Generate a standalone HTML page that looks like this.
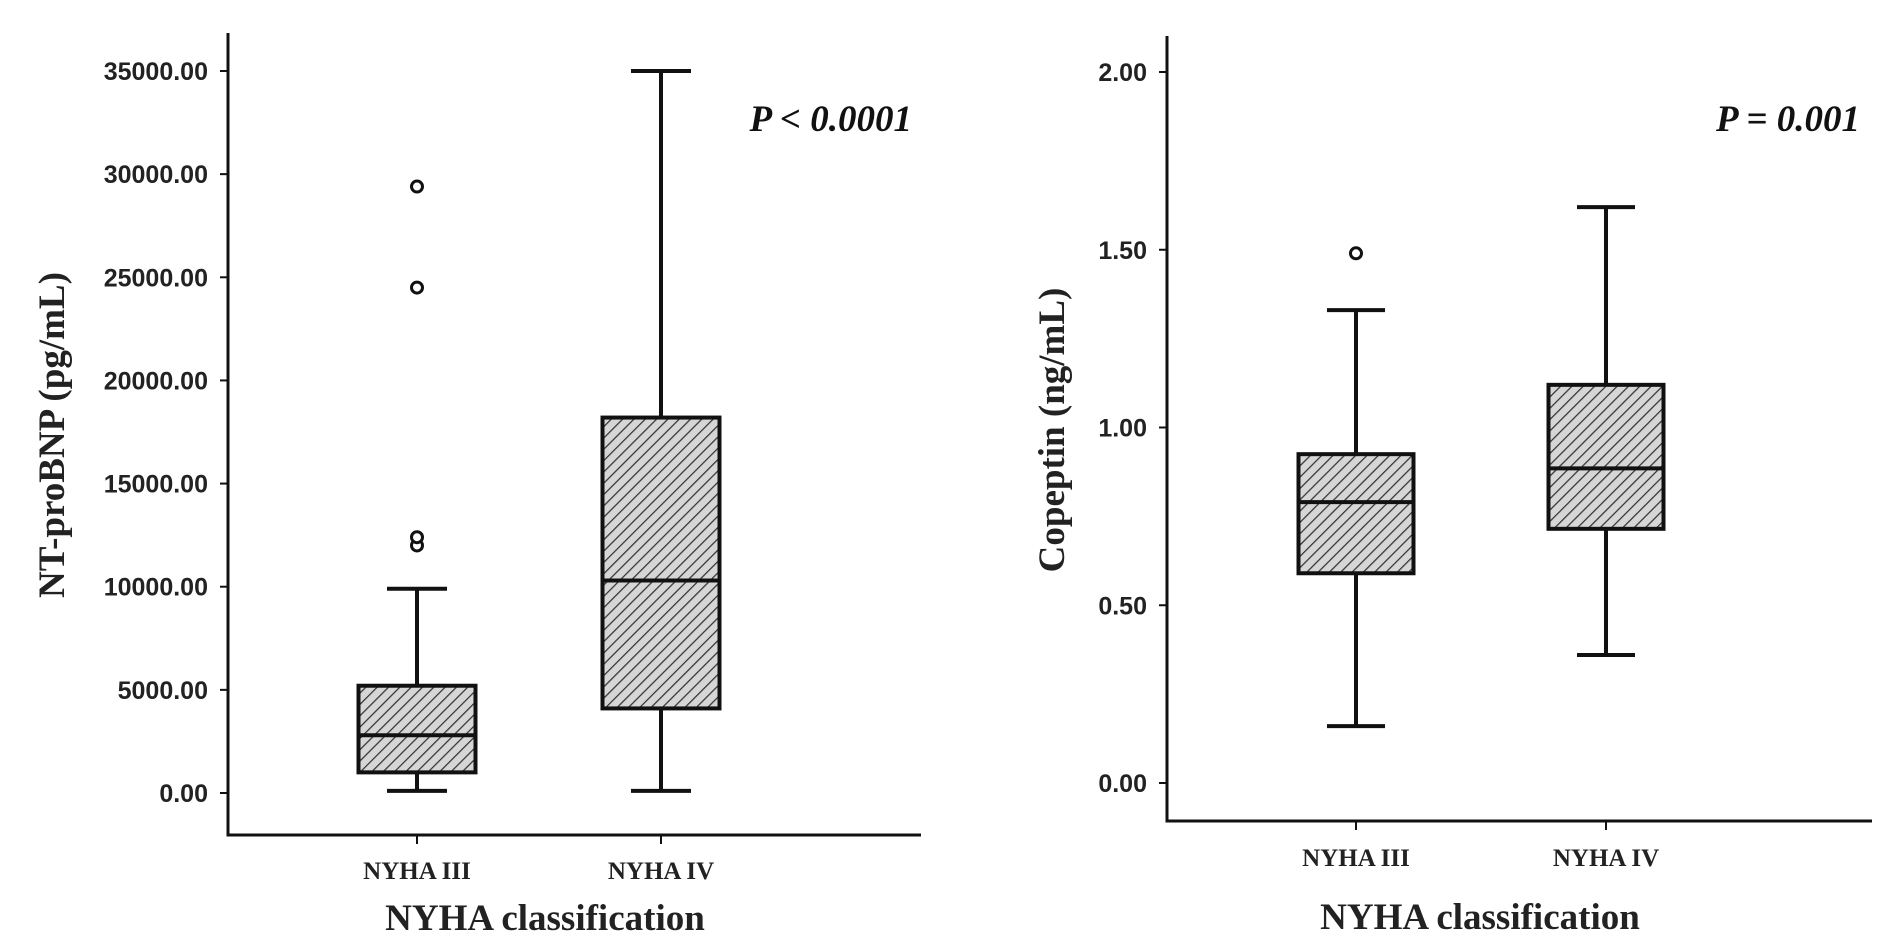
<!DOCTYPE html>
<html><head><meta charset="utf-8"><style>
html,body{margin:0;padding:0;background:#fff;}
svg{display:block;}
.tick{font-family:"Liberation Sans",sans-serif;font-weight:bold;font-size:25px;fill:#222;}
.cat{font-family:"Liberation Serif",serif;font-weight:bold;font-size:25px;fill:#222;}
.title{font-family:"Liberation Serif",serif;font-weight:bold;font-size:37px;fill:#222;}
.pval{font-family:"Liberation Serif",serif;font-weight:bold;font-style:italic;font-size:37px;fill:#111;}
</style></head><body>
<svg id="chart" width="1890" height="950" viewBox="0 0 1890 950">
<defs>
<pattern id="hatch" patternUnits="userSpaceOnUse" width="8" height="8" patternTransform="rotate(45)">
<rect width="8" height="8" fill="#d6d6d6"/>
<line x1="0" y1="0" x2="0" y2="8" stroke="#333" stroke-width="2.5"/>
</pattern>
</defs>
</svg>
<script>
const categories = ["NYHA III", "NYHA IV"];
// NT-proBNP panel
const bnpWhiskerLow = [100, 100];
const bnpQ1 = [1000, 4100];
const bnpMedian = [2800, 10300];
const bnpQ3 = [5200, 18200];
const bnpWhiskerHigh = [9900, 35000];
const bnpOutliers = [[12000, 12400, 24500, 29400], []];
const bnpTicks = [0, 5000, 10000, 15000, 20000, 25000, 30000, 35000];
// Copeptin panel
const copWhiskerLow = [0.16, 0.36];
const copQ1 = [0.59, 0.715];
const copMedian = [0.79, 0.885];
const copQ3 = [0.925, 1.12];
const copWhiskerHigh = [1.33, 1.62];
const copOutliers = [[1.49], []];
const copTicks = [0, 0.5, 1.0, 1.5, 2.0];

const NS = "http://www.w3.org/2000/svg";
const svg = document.getElementById("chart");
function mk(tag, attrs, parent) {
  const e = document.createElementNS(NS, tag);
  for (const k in attrs) e.setAttribute(k, attrs[k]);
  (parent || svg).appendChild(e);
  return e;
}

function panel(p) {
  const g = mk("g", {});
  
  
  const y = v => p.y0 + (v - p.vmin) / (p.vmax - p.vmin) * (p.y1 - p.y0);
  const sw = 4;
  const ya = mk("line", {x1:p.ax, y1:p.axTop, x2:p.ax, y2:p.axBottom + 1.5, stroke:"#111", "stroke-width":3}, g);
  
  
  const xa = mk("line", {x1:p.ax, y1:p.axBottom, x2:p.axRight, y2:p.axBottom, stroke:"#111", "stroke-width":3}, g);
  
  
  p.ticks.forEach(t => {
    const ty = y(t);
    const tk = mk("line", {x1:p.ax - 8, y1:ty, x2:p.ax, y2:ty, stroke:"#111", "stroke-width":2}, g);
    
    
    const tl = mk("text", {x:p.ax - 20, y:ty + 9, "text-anchor":"end", class:"tick"}, g);
    tl.textContent = t.toFixed(2);
    
    
  });
  categories.forEach((c, i) => {
    const cx = p.cx[i];
    const xt = mk("line", {x1:cx, y1:p.axBottom, x2:cx, y2:p.axBottom + 9, stroke:"#111", "stroke-width":2}, g);
    
    
    const cl = mk("text", {x:cx, y:p.catY, "text-anchor":"middle", class:"cat"}, g);
    cl.textContent = c;
    
    
    const hw = p.boxW / 2, cw = p.capW / 2;
    const wl = mk("line", {x1:cx, y1:y(p.lo[i]), x2:cx, y2:y(p.q1[i]), stroke:"#111", "stroke-width":sw}, g);
    
    
    const wh = mk("line", {x1:cx, y1:y(p.hi[i]), x2:cx, y2:y(p.q3[i]), stroke:"#111", "stroke-width":sw}, g);
    
    
    [p.lo[i], p.hi[i]].forEach(v => {
      const cap = mk("line", {x1:cx - cw, y1:y(v), x2:cx + cw, y2:y(v), stroke:"#111", "stroke-width":sw}, g);
      
      
    });
    const bx = mk("rect", {x:cx - hw, y:y(p.q3[i]), width:p.boxW, height:y(p.q1[i]) - y(p.q3[i]), fill:"url(#hatch)", stroke:"#111", "stroke-width":sw}, g);
    
    
    const md = mk("line", {x1:cx - hw, y1:y(p.med[i]), x2:cx + hw, y2:y(p.med[i]), stroke:"#111", "stroke-width":sw}, g);
    
    
    p.out[i].forEach(v => {
      const o = mk("circle", {cx:cx, cy:y(v), r:5.5, fill:"#fff", stroke:"#111", "stroke-width":3}, g);
      
      
    });
  });
  const yt = mk("text", {x:0, y:0, "text-anchor":"middle", class:"title", transform:`translate(${p.ytX},${p.ytY}) rotate(-90)`}, g);
  yt.textContent = p.yTitle;
  
  
  const xt = mk("text", {x:p.xtX, y:p.xtY, "text-anchor":"middle", class:"title"}, g);
  xt.textContent = "NYHA classification";
  
  
  const pv = mk("text", {x:p.pX, y:p.pY, "text-anchor":"end", class:"pval"}, g);
  pv.textContent = p.pText;
  
  
}

panel({name:"ntprobnp-panel", vmin:0, vmax:35000, y0:793, y1:71, ticks:bnpTicks,
  ax:228, axTop:33, axBottom:835, axRight:921, cx:[417,661], boxW:117, capW:60,
  lo:bnpWhiskerLow, q1:bnpQ1, med:bnpMedian, q3:bnpQ3, hi:bnpWhiskerHigh, out:bnpOutliers,
  catY:879, yTitle:"NT-proBNP  (pg/mL)", ytX:64, ytY:435, xtX:545, xtY:930,
  pText:"P < 0.0001", pX:912, pY:131});
panel({name:"copeptin-panel", vmin:0, vmax:2, y0:783, y1:72, ticks:copTicks,
  ax:1167, axTop:36, axBottom:821, axRight:1872, cx:[1356,1606], boxW:115, capW:58,
  lo:copWhiskerLow, q1:copQ1, med:copMedian, q3:copQ3, hi:copWhiskerHigh, out:copOutliers,
  catY:866, yTitle:"Copeptin (ng/mL)", ytX:1064, ytY:430, xtX:1480, xtY:929,
  pText:"P = 0.001", pX:1860, pY:131});
</script>
</body></html>
